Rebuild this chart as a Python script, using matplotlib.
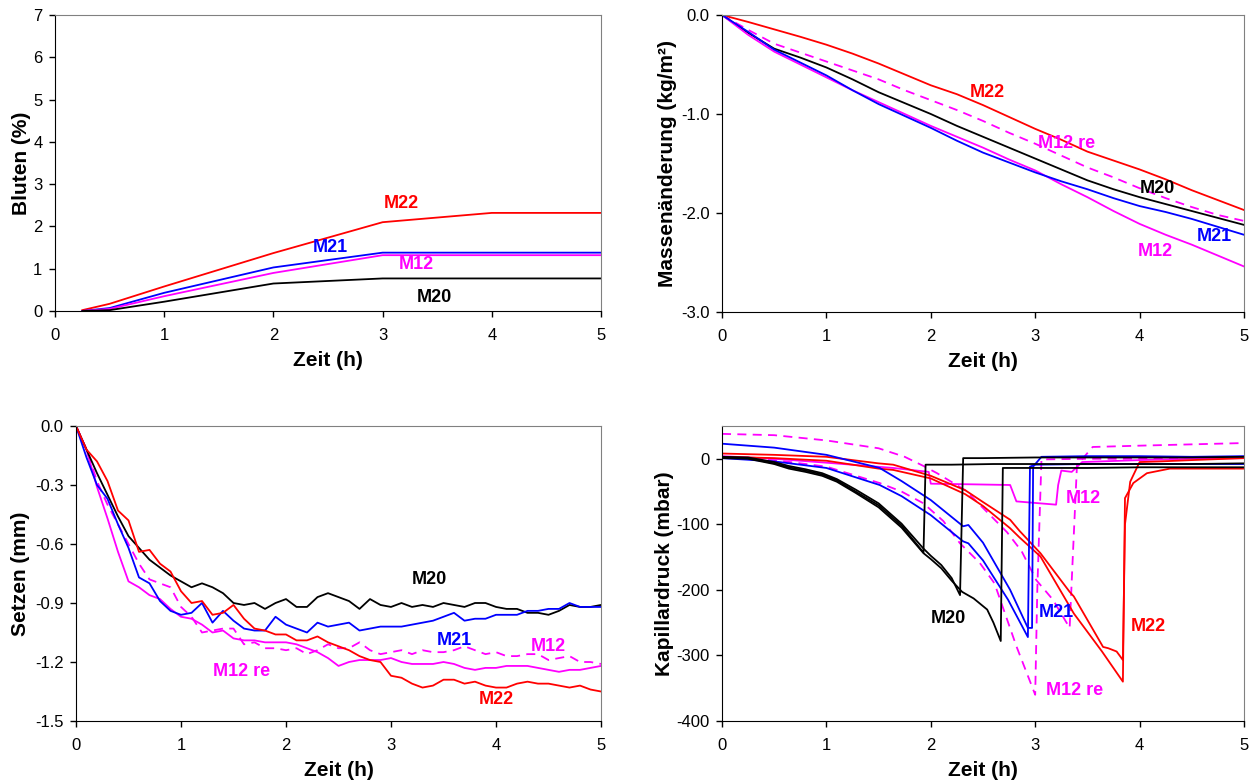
import numpy as np
import matplotlib
matplotlib.use("Agg")
import matplotlib.pyplot as plt
from matplotlib.ticker import FormatStrFormatter

plt.rcParams['font.family'] = ['Liberation Sans', 'DejaVu Sans']
plt.rcParams['axes.unicode_minus'] = False

RED, BLUE, MAG, BLK = '#FF0000', '#0000FF', '#FF00FF', '#000000'

# --- Bluten (%) ---
t_blut = [0.25, 0.5, 1, 2, 3, 4, 5]
blut_m22 = [0.02, 0.17, 0.58, 1.37, 2.10, 2.32, 2.32]
blut_m21 = [0.0, 0.07, 0.43, 1.03, 1.38, 1.38, 1.38]
blut_m12 = [0.0, 0.05, 0.35, 0.90, 1.32, 1.32, 1.32]
blut_m20 = [0.0, 0.02, 0.22, 0.65, 0.77, 0.77, 0.77]

# --- Massenaenderung (kg/m2) ---
t_mass = [0, 0.25, 0.5, 0.75, 1, 1.25, 1.5, 1.75, 2, 2.25, 2.5, 2.75, 3,
          3.25, 3.5, 3.75, 4, 4.25, 4.5, 4.75, 5]
mass_m22 = [0, -0.07, -0.145, -0.22, -0.30, -0.39, -0.49, -0.60, -0.71, -0.80,
            -0.91, -1.03, -1.15, -1.26, -1.38, -1.47, -1.56, -1.66, -1.77, -1.87, -1.97]
mass_m20 = [0, -0.18, -0.34, -0.43, -0.53, -0.65, -0.78, -0.89, -1.00, -1.12,
            -1.23, -1.34, -1.45, -1.56, -1.67, -1.76, -1.84, -1.91, -1.98, -2.05, -2.12]
mass_m12re = [0, -0.15, -0.29, -0.38, -0.47, -0.56, -0.65, -0.76, -0.86, -0.96,
              -1.07, -1.19, -1.30, -1.42, -1.54, -1.64, -1.75, -1.85, -1.94, -2.02, -2.08]
mass_m21 = [0, -0.17, -0.35, -0.48, -0.61, -0.76, -0.90, -1.02, -1.14, -1.27,
            -1.39, -1.49, -1.59, -1.68, -1.76, -1.85, -1.93, -1.99, -2.06, -2.14, -2.22]
mass_m12 = [0, -0.20, -0.37, -0.50, -0.63, -0.76, -0.88, -1.00, -1.12, -1.23,
            -1.34, -1.46, -1.57, -1.71, -1.84, -1.98, -2.11, -2.22, -2.32, -2.43, -2.54]

# --- Setzen (mm) ---
t_setz = [round(0.1 * i, 1) for i in range(51)]
setz_m20 = [0, -0.12, -0.24, -0.35, -0.46, -0.56, -0.62, -0.68, -0.72, -0.76,
            -0.79, -0.82, -0.80, -0.82, -0.85, -0.90, -0.91, -0.90, -0.93, -0.90,
            -0.88, -0.92, -0.92, -0.87, -0.85, -0.87, -0.89, -0.93, -0.88, -0.91,
            -0.92, -0.90, -0.92, -0.91, -0.92, -0.90, -0.91, -0.92, -0.90, -0.90,
            -0.92, -0.93, -0.93, -0.95, -0.95, -0.96, -0.94, -0.91, -0.92, -0.92, -0.91]
setz_m21 = [0, -0.16, -0.30, -0.37, -0.50, -0.62, -0.77, -0.80, -0.89, -0.94,
            -0.96, -0.95, -0.90, -1.00, -0.94, -0.99, -1.03, -1.04, -1.04, -0.97,
            -1.01, -1.03, -1.05, -1.00, -1.02, -1.01, -1.00, -1.04, -1.03, -1.02,
            -1.02, -1.02, -1.01, -1.00, -0.99, -0.97, -0.95, -0.99, -0.98, -0.98,
            -0.96, -0.96, -0.96, -0.94, -0.94, -0.93, -0.93, -0.90, -0.92, -0.92, -0.92]
setz_m22 = [0, -0.12, -0.18, -0.28, -0.43, -0.48, -0.64, -0.63, -0.70, -0.74,
            -0.84, -0.90, -0.89, -0.96, -0.95, -0.91, -0.98, -1.03, -1.04, -1.06,
            -1.06, -1.09, -1.09, -1.07, -1.10, -1.12, -1.14, -1.17, -1.19, -1.20,
            -1.27, -1.28, -1.31, -1.33, -1.32, -1.29, -1.29, -1.31, -1.30, -1.32,
            -1.33, -1.33, -1.31, -1.30, -1.31, -1.31, -1.32, -1.33, -1.32, -1.34, -1.35]
setz_m12 = [0, -0.12, -0.31, -0.47, -0.64, -0.79, -0.82, -0.86, -0.88, -0.93,
            -0.97, -0.98, -1.01, -1.05, -1.04, -1.08, -1.09, -1.09, -1.10, -1.10,
            -1.10, -1.11, -1.13, -1.15, -1.18, -1.22, -1.20, -1.19, -1.19, -1.19,
            -1.18, -1.20, -1.21, -1.21, -1.21, -1.20, -1.21, -1.23, -1.24, -1.23,
            -1.23, -1.22, -1.22, -1.22, -1.23, -1.24, -1.25, -1.24, -1.24, -1.23, -1.22]
setz_m12re = [0, -0.12, -0.28, -0.40, -0.50, -0.60, -0.70, -0.78, -0.80, -0.82,
              -0.92, -0.97, -1.05, -1.04, -1.03, -1.03, -1.11, -1.10, -1.13, -1.13,
              -1.14, -1.13, -1.16, -1.14, -1.11, -1.13, -1.13, -1.10, -1.14, -1.16,
              -1.15, -1.14, -1.16, -1.14, -1.15, -1.15, -1.14, -1.12, -1.14, -1.16,
              -1.15, -1.17, -1.17, -1.16, -1.16, -1.19, -1.18, -1.17, -1.20, -1.20, -1.21]

# --- Kapillardruck (mbar), several sensors per mix ---
kap_m20 = [
    ([0, 0.25, 0.5, 0.64, 0.8, 0.96, 1.1, 1.28, 1.5, 1.72, 1.93, 1.95, 2.2, 2.6, 3, 3.5, 4, 4.5, 5],
     [2, 1, -7, -13, -18, -24, -33, -50, -71, -102, -143, -9, -9, -8, -8, -8, -8, -8, -7]),
    ([0, 0.25, 0.5, 0.64, 0.8, 0.96, 1.1, 1.28, 1.5, 1.72, 1.93, 2.0, 2.1, 2.2, 2.28, 2.31, 2.5, 3, 3.5, 4, 4.5, 5],
     [3, 2, -5, -11, -16, -22, -31, -47, -68, -99, -137, -148, -162, -182, -208, 1, 1, 2, 2, 2, 2, 3]),
    ([0, 0.25, 0.5, 0.64, 0.8, 0.96, 1.1, 1.28, 1.5, 1.72, 1.93, 2.0, 2.1, 2.2, 2.3, 2.41, 2.54, 2.6, 2.67, 2.69, 3, 3.5, 4, 4.5, 5],
     [1, 0, -8, -15, -20, -26, -35, -52, -74, -105, -144, -153, -167, -186, -203, -213, -230, -250, -278, -14, -14, -14, -13, -13, -13]),
]
kap_m21 = [
    ([0, 0.5, 1, 1.51, 1.72, 2, 2.31, 2.36, 2.5, 2.76, 2.93, 2.97, 2.98, 3.06, 3.5, 4, 4.5, 5],
     [23, 17, 6, -14, -34, -63, -103, -101, -128, -200, -258, -258, -12, 3, 4, 4, 3, 4]),
    ([0, 0.5, 1, 1.51, 1.72, 2, 2.31, 2.36, 2.5, 2.74, 2.93, 2.95, 3.0, 3.5, 4, 4.5, 5],
     [1, -4, -14, -40, -57, -86, -126, -129, -155, -215, -272, -12, -9, -8, -8, -8, -8]),
]
kap_m22 = [
    ([0, 0.5, 1, 1.5, 1.64, 2, 2.33, 2.5, 2.76, 2.85, 3.05, 3.33, 3.37, 3.65, 3.7, 3.78, 3.84, 3.86, 3.91, 4.0, 4.2, 4.5, 5],
     [8, 6, 3, -7, -9, -26, -48, -66, -93, -110, -144, -203, -210, -287, -289, -294, -307, -100, -35, -5, -4, -2, 1]),
    ([0, 0.5, 1, 1.5, 1.64, 2, 2.33, 2.5, 2.76, 2.85, 3.05, 3.37, 3.64, 3.84, 3.86, 3.94, 4.07, 4.29, 5],
     [3, 1, -3, -15, -17, -30, -54, -72, -106, -120, -149, -236, -294, -340, -60, -37, -22, -15, -15]),
]
kap_m12 = [
    ([0, 0.5, 1, 1.64, 1.98, 2.0, 2.4, 2.76, 2.82, 3.2, 3.22, 3.25, 3.35, 3.45, 4, 4.5, 5],
     [4, 0, -6, -14, -20, -38, -39, -40, -65, -70, -40, -18, -20, -5, -2, 0, 1]),
]
kap_m12re = [
    ([0, 0.5, 1, 1.5, 1.75, 1.93, 2.06, 2.33, 2.5, 2.73, 2.87, 3.01, 3.17, 3.33, 3.36, 3.4, 3.55, 4, 4.5, 5],
     [38, 36, 28, 16, 3, -11, -22, -48, -75, -112, -141, -185, -215, -258, -150, -10, 18, 20, 22, 24]),
    ([0, 0.5, 1, 1.51, 1.72, 1.93, 2.12, 2.28, 2.47, 2.61, 2.82, 3.0, 3.02, 3.06, 3.5, 4, 4.5, 5],
     [3, -2, -12, -37, -50, -68, -95, -129, -159, -190, -286, -360, -200, -1, 0, 0, 1, 1]),
]

W, H = 1254, 783
fig = plt.figure(figsize=(W / 100, H / 100), dpi=100)


def make_ax(l, t, r, b, ylabel, label_right):
    ax = fig.add_axes([l / W, 1 - b / H, (r - l) / W, (b - t) / H])
    for s in ['top', 'right']:
        ax.spines[s].set_color('#808080')
    for s in ['left', 'bottom']:
        ax.spines[s].set_color('black')
    ax.tick_params(direction='out', length=4, width=1, labelsize=12)
    ax.tick_params(axis='x', pad=8)
    ax.tick_params(axis='y', pad=5)
    ax.set_xlim(0, 5)
    ax.set_xticks(range(6))
    ax.set_xlabel('Zeit (h)', fontsize=15, fontweight='bold', labelpad=6)
    ax.set_ylabel(ylabel, fontsize=15, fontweight='bold')
    # place the y label like the original (right edge of the rotated text)
    ax.yaxis.set_label_coords((label_right - l) / (r - l), 0.5)
    return ax


lw = 1.3
dash = (5, 3.5)
lab = dict(fontsize=13, fontweight='bold', ha='center', va='center')

# top left
ax1 = make_ax(55, 15, 601, 311, 'Bluten (%)', 31)
ax1.plot(t_blut, blut_m22, color=RED, lw=lw)
ax1.plot(t_blut, blut_m21, color=BLUE, lw=lw)
ax1.plot(t_blut, blut_m12, color=MAG, lw=lw)
ax1.plot(t_blut, blut_m20, color=BLK, lw=lw)
ax1.set_ylim(0, 7)
ax1.set_yticks(range(8))
ax1.text(3.17, 2.55, 'M22', color=RED, **lab)
ax1.text(2.52, 1.51, 'M21', color=BLUE, **lab)
ax1.text(3.31, 1.11, 'M12', color=MAG, **lab)
ax1.text(3.47, 0.33, 'M20', color=BLK, **lab)

# top right
ax2 = make_ax(722, 15, 1244, 312, 'Massenänderung (kg/m²)', 677)
ax2.plot(t_mass, mass_m22, color=RED, lw=lw)
ax2.plot(t_mass, mass_m12re, color=MAG, lw=lw, dashes=dash)
ax2.plot(t_mass, mass_m20, color=BLK, lw=lw)
ax2.plot(t_mass, mass_m12, color=MAG, lw=lw)
ax2.plot(t_mass, mass_m21, color=BLUE, lw=lw)
ax2.set_ylim(-3, 0)
ax2.set_yticks([-3, -2, -1, 0])
ax2.yaxis.set_major_formatter(FormatStrFormatter('%.1f'))
ax2.text(2.54, -0.78, 'M22', color=RED, **lab)
ax2.text(3.3, -1.30, 'M12 re', color=MAG, **lab)
ax2.text(4.17, -1.75, 'M20', color=BLK, **lab)
ax2.text(4.72, -2.24, 'M21', color=BLUE, **lab)
ax2.text(4.15, -2.39, 'M12', color=MAG, **lab)

# bottom left
ax3 = make_ax(76, 426, 601, 721, 'Setzen (mm)', 30)
ax3.plot(t_setz, setz_m12re, color=MAG, lw=lw, dashes=dash)
ax3.plot(t_setz, setz_m12, color=MAG, lw=lw)
ax3.plot(t_setz, setz_m20, color=BLK, lw=lw)
ax3.plot(t_setz, setz_m21, color=BLUE, lw=lw)
ax3.plot(t_setz, setz_m22, color=RED, lw=lw)
ax3.set_ylim(-1.5, 0)
ax3.set_yticks([-1.5, -1.2, -0.9, -0.6, -0.3, 0])
ax3.yaxis.set_major_formatter(FormatStrFormatter('%.1f'))
ax3.text(3.37, -0.78, 'M20', color=BLK, **lab)
ax3.text(3.6, -1.09, 'M21', color=BLUE, **lab)
ax3.text(4.5, -1.12, 'M12', color=MAG, **lab)
ax3.text(1.58, -1.25, 'M12 re', color=MAG, **lab)
ax3.text(4.0, -1.39, 'M22', color=RED, **lab)

# bottom right
ax4 = make_ax(722, 426, 1244, 721, 'Kapillardruck (mbar)', 674)
for tt, pp in kap_m12re:
    ax4.plot(tt, pp, color=MAG, lw=lw, dashes=dash)
for tt, pp in kap_m12:
    ax4.plot(tt, pp, color=MAG, lw=lw)
for tt, pp in kap_m22:
    ax4.plot(tt, pp, color=RED, lw=lw)
for tt, pp in kap_m21:
    ax4.plot(tt, pp, color=BLUE, lw=lw)
for tt, pp in kap_m20:
    ax4.plot(tt, pp, color=BLK, lw=lw)
ax4.set_ylim(-400, 50)
ax4.set_yticks([-400, -300, -200, -100, 0])
ax4.text(2.17, -243, 'M20', color=BLK, **lab)
ax4.text(3.2, -234, 'M21', color=BLUE, **lab)
ax4.text(3.46, -60, 'M12', color=MAG, **lab)
ax4.text(4.08, -256, 'M22', color=RED, **lab)
ax4.text(3.38, -354, 'M12 re', color=MAG, **lab)

fig.savefig('out.png', dpi=100)
